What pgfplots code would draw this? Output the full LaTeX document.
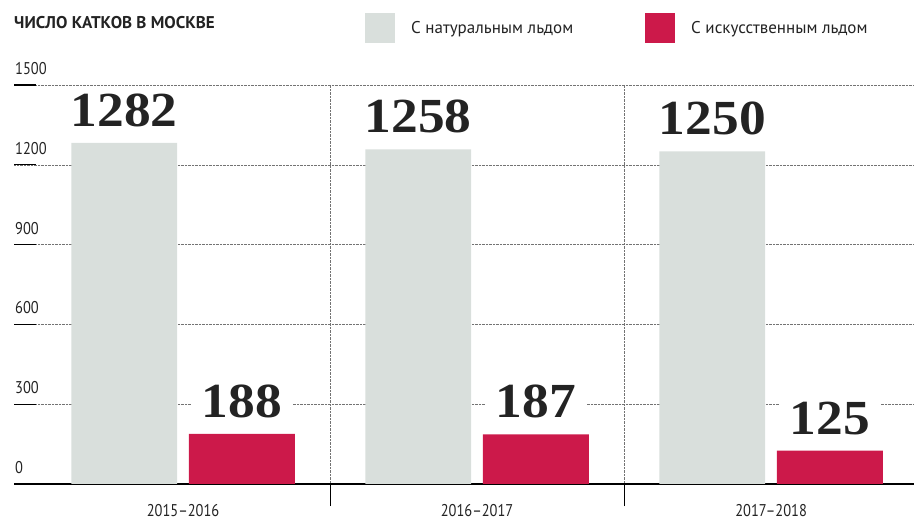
\documentclass[border=0pt]{standalone}
\usepackage{pgfplots}
\pgfplotsset{compat=1.18}
\usepackage{fontspec}
\setmainfont{PT Sans}
\newfontfamily\condfont[FakeStretch=0.85,Ligatures=TeX]{PT Sans}
\newfontfamily\valfont[FakeStretch=1.09]{Liberation Serif}
\definecolor{natgrey}{RGB}{217,223,220}
\definecolor{artred}{RGB}{204,25,74}
\definecolor{txt}{RGB}{35,35,35}
\begin{document}
\begin{tikzpicture}
\useasboundingbox (0,0) rectangle (914pt,525pt);
\begin{axis}[
  at={(14pt,41pt)}, anchor=south west,
  width=900pt, height=399pt, scale only axis,
  xmin=-0.575, xmax=2.486, ymin=0, ymax=1500,
  /pgf/number format/1000 sep={},
  /pgf/number format/assume math mode=true,
  axis x line*=bottom, axis y line*=left,
  x axis line style={-, black, line width=1.6pt},
  y axis line style={draw=none},
  ytick={0,300,600,900,1200,1500},
  ytick pos=left, ytick align=inside,
  ytick style={black, line width=1.2pt},
  major tick length=22pt,
  ymajorgrids,
  major grid style={densely dotted, black!55, line width=0.5pt},
  yticklabel style={anchor=south west, font=\condfont\fontsize{17}{17}\selectfont, text=txt, inner sep=0pt, yshift=10pt, xshift=1pt},
  xtick={0.5,1.5}, xticklabels={},
  xtick pos=bottom, xtick align=outside,
  xmajorgrids,
  xtick style={black, line width=0.8pt},
  extra x ticks={0,1,2},
  extra x tick labels={2015–2016,2016–2017,2017–2018},
  extra x tick style={grid=none, major tick length=0pt, tick style={draw=none}},
  xticklabel style={font=\condfont\fontsize{17}{17}\selectfont, text=txt, yshift=-17pt},
  legend columns=2,
  legend style={draw=none, at={(0.39,1.18)}, anchor=north west, inner sep=0pt,
    font=\fontsize{17}{17}\selectfont, text=txt,
    /tikz/every odd column/.append style={column sep=14pt},
    /tikz/every even column/.append style={column sep=70pt}},
  legend image code/.code={\fill[#1,draw=none] (0pt,-15pt) rectangle (30pt,15pt);},
  nodes near coords,
  every node near coord/.append style={font=\valfont\bfseries\fontsize{49}{49}\selectfont, text=txt, fill=white, inner xsep=11pt, inner ysep=3pt, anchor=south, yshift=13pt},
]
\addplot[ybar, bar width=0.36, bar shift=-0.2, fill=natgrey, draw=none,
  every node near coord/.append style={xshift=-58.8pt}] coordinates {(0,1282) (1,1258) (2,1250)};
\addplot[ybar, bar width=0.36, bar shift=0.2, fill=artred, draw=none,
  every node near coord/.append style={xshift=58.8pt}] coordinates {(0,188) (1,187) (2,125)};
\legend{С натуральным льдом, С искусственным льдом}
\end{axis}
\node[anchor=base west, inner sep=0pt, font=\bfseries\fontsize{17}{17}\selectfont, text=txt] at (14pt,496pt) {ЧИСЛО КАТКОВ В МОСКВЕ};
\end{tikzpicture}
\end{document}
